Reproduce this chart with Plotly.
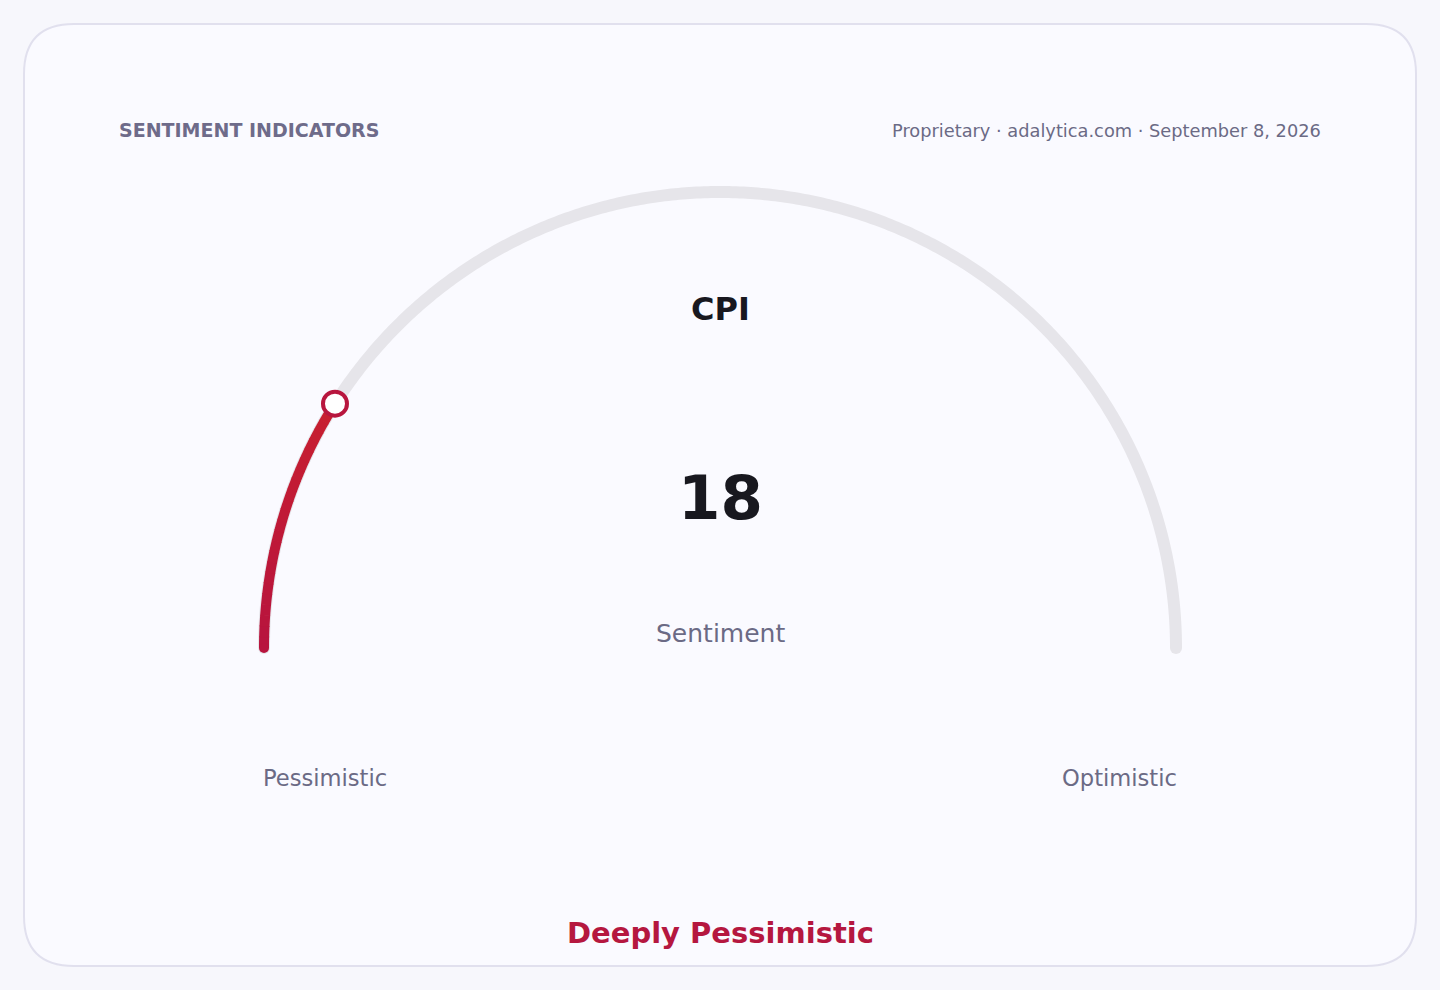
import numpy as np
import plotly.graph_objects as go

# gauge data
indicator = "CPI"
value = 18
gauge_min = 0
gauge_max = 100
value_label = "Sentiment"
low_label = "Pessimistic"
high_label = "Optimistic"
verdict = "Deeply Pessimistic"
header_left = "SENTIMENT INDICATORS"
header_right = "Proprietary · adalytica.com · September 8, 2026"

W, H = 1440, 990
CX, CY, R = 720, 648, 456
FONT = "DejaVu Sans"
MUTED = "#6b6a85"
PAGE_BG = "#f7f7fc"
RED_LO = np.array([184, 20, 62])
RED_HI = np.array([200, 32, 48])


def arc_xy(v0, v1, n=400):
    a0 = np.pi * (1 - (v0 - gauge_min) / (gauge_max - gauge_min))
    a1 = np.pi * (1 - (v1 - gauge_min) / (gauge_max - gauge_min))
    t = np.linspace(a0, a1, n)
    return CX + R * np.cos(t), CY - R * np.sin(t)


fig = go.Figure()

# card
rr = 50
x0, y0, x1, y1 = 24, 24, 1416, 966
card = (f"M {x0+rr},{y0} L {x1-rr},{y0} Q {x1},{y0} {x1},{y0+rr} "
        f"L {x1},{y1-rr} Q {x1},{y1} {x1-rr},{y1} L {x0+rr},{y1} "
        f"Q {x0},{y1} {x0},{y1-rr} L {x0},{y0+rr} Q {x0},{y0} {x0+rr},{y0} Z")
fig.add_shape(type="path", path=card, xref="x", yref="y",
              fillcolor="#fafaff", line=dict(color="#e1e0ee", width=2), layer="below")

# track
tx, ty = arc_xy(gauge_min, gauge_max)
fig.add_trace(go.Scatter(x=tx, y=ty, mode="lines",
                         line=dict(color="#e6e5ea", width=12, simplify=False),
                         hoverinfo="skip"))
fig.add_trace(go.Scatter(x=[tx[0], tx[-1]], y=[ty[0], ty[-1]], mode="markers",
                         marker=dict(color="#e6e5ea", size=12), hoverinfo="skip"))

# value arc, drawn in short pieces for a gradient
n_seg = 24
edges = np.linspace(gauge_min, value, n_seg + 1)
for i in range(n_seg):
    f = i / (n_seg - 1)
    c = (RED_LO + (RED_HI - RED_LO) * f).astype(int)
    sx, sy = arc_xy(edges[i], edges[i + 1] + 0.05, n=16)
    fig.add_trace(go.Scatter(x=sx, y=sy, mode="lines",
                             line=dict(color=f"rgb({c[0]},{c[1]},{c[2]})", width=10,
                                       simplify=False),
                             hoverinfo="skip"))
vx, vy = arc_xy(gauge_min, value, n=2)
fig.add_trace(go.Scatter(x=[vx[0]], y=[vy[0]], mode="markers",
                         marker=dict(color="rgb(184,20,62)", size=10), hoverinfo="skip"))
fig.add_trace(go.Scatter(x=[vx[-1]], y=[vy[-1]], mode="markers",
                         marker=dict(color="white", size=24,
                                     line=dict(color="#b8163e", width=4)),
                         hoverinfo="skip"))

# texts
def txt(x, y, s, size, color, bold=False, xanchor="center", dx=0):
    fig.add_annotation(x=x, y=y, text=f"<b>{s}</b>" if bold else s, showarrow=False,
                       xanchor=xanchor, yanchor="middle", xshift=dx, borderpad=0,
                       font=dict(family=FONT, size=size, color=color))

txt(120, 130, header_left, 19, "#6e6b8a", bold=True, xanchor="left", dx=-2)
txt(1320, 130, header_right, 17.8, MUTED, xanchor="right", dx=2)
txt(CX, 309, indicator, 32, "#18181f", bold=True)
txt(CX, 497, str(value), 61, "#18181f", bold=True)
txt(CX, 633, value_label, 25, MUTED)
txt(CX - R, 778, low_label, 22.6, MUTED, xanchor="left", dx=-2)
txt(CX + R, 778, high_label, 22.6, MUTED, xanchor="right", dx=2)
txt(CX, 933, verdict, 29, "#b5173f", bold=True)

fig.update_layout(
    width=W, height=H, margin=dict(l=0, r=0, t=0, b=0),
    paper_bgcolor=PAGE_BG, plot_bgcolor="rgba(0,0,0,0)",
    showlegend=False,
    xaxis=dict(range=[0, W], visible=False, fixedrange=True),
    yaxis=dict(range=[H, 0], visible=False, fixedrange=True),
)

fig.write_html(
    "out.html",
    config={"displayModeBar": False},
    post_script=f"document.body.style.margin='0';document.body.style.background='{PAGE_BG}';",
)
